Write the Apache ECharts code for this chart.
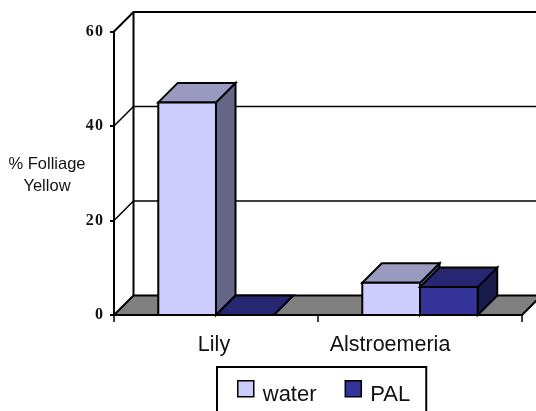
<!DOCTYPE html>
<html><head><meta charset="utf-8">
<style>html,body{margin:0;padding:0;background:#fff}#c{width:536px;height:411px}</style>
<script src="https://cdn.jsdelivr.net/npm/echarts@6/dist/echarts.min.js"></script></head>
<body><div id="c"></div>
<script>
const categories = ['Lily', 'Alstroemeria'];
const waterValues = [45, 6.8];
const palValues = [0, 5.9];
const yTicks = [0, 20, 40, 60];
const DEPTH = 19.5, BAR_FRACTION = 0.283;
const SANS = '"Liberation Sans", Arial, sans-serif';

function box(api, sideSign, colors) {
  const base = api.coord([api.value(0), 0]);
  const top = api.coord([api.value(0), api.value(1)]);
  const w = api.size([1, 0])[0] * BAR_FRACTION;
  const x0 = sideSign < 0 ? base[0] - w : base[0];
  const x1 = x0 + w;
  const yb = base[1], yt = top[1];
  const st = {stroke: '#000', lineWidth: 2, lineJoin: 'miter'};
  const poly = (pts, fill) => ({type: 'polygon', shape: {points: pts}, style: Object.assign({fill}, st)});
  return {type: 'group', silent: true, children: [
    poly([[x1, yb], [x1 + DEPTH, yb - DEPTH], [x1 + DEPTH, yt - DEPTH], [x1, yt]], colors.side),
    poly([[x0, yt], [x1, yt], [x1 + DEPTH, yt - DEPTH], [x0 + DEPTH, yt - DEPTH]], colors.top),
    poly([[x0, yb], [x1, yb], [x1, yt], [x0, yt]], colors.front)
  ]};
}
const waterColors = {front: '#ccccff', top: '#9a9ac0', side: '#666688'};
const palColors = {front: '#333399', top: '#262673', side: '#1a1a4d'};

function wall(params, api) {
  const cs = params.coordSys;
  const tick = api.value(1);
  const p = api.coord([0, tick]);
  const left = cs.x, right = cs.x + cs.width;
  const y = p[1];
  const children = [];
  const line = (pts, w) => ({type: 'polyline', shape: {points: pts}, style: {stroke: '#000', lineWidth: w, fill: null}});
  if (tick === 0) {
    children.push({type: 'polygon', shape: {points: [[left, y], [right, y], [right + DEPTH, y - DEPTH], [left + DEPTH, y - DEPTH]]},
      style: {fill: '#808080', stroke: '#000', lineWidth: 2}});
    children.push(line([[left + DEPTH, y - DEPTH], [left + DEPTH, cs.y - DEPTH]], 2));
  } else {
    const w = tick === yTicks[yTicks.length - 1] ? 2 : 1.5;
    children.push(line([[left, y], [left + DEPTH, y - DEPTH], [right + DEPTH, y - DEPTH]], w));
  }
  return {type: 'group', silent: true, children};
}

const labelFont = {color: '#111', fontFamily: SANS, fontSize: 21.5};
const legendFont = {color: '#111', fontFamily: SANS, fontSize: 22};
const chart = echarts.init(document.getElementById('c'), null, {renderer: 'canvas'});
chart.setOption({
  animation: false,
  backgroundColor: '#fff',
  title: {text: '% Folliage\nYellow', left: 47, top: 153, textAlign: 'center', padding: 0,
    textStyle: {color: '#111', fontFamily: SANS, fontSize: 16.5, fontWeight: 'normal', lineHeight: 22}},
  grid: {left: 114, top: 31.5, width: 408, height: 283.5, outerBoundsMode: 'none', containLabel: false},
  xAxis: {type: 'category', data: categories, z: 10,
    axisLine: {lineStyle: {color: '#000', width: 2}},
    axisTick: {show: true, length: 7, lineStyle: {color: '#000', width: 1.5}},
    axisLabel: Object.assign({}, labelFont, {margin: 19, interval: 0, hideOverlap: false,
      formatter: (v, i) => `{c${i}|${v}}`,
      rich: {
        c0: Object.assign({}, labelFont, {padding: [0, 4, 0, 0]}),
        c1: Object.assign({}, labelFont, {padding: [0, 60, 0, 0]})
      }})},
  yAxis: {type: 'value', min: 0, max: 60, interval: 20, z: 10,
    splitLine: {show: false},
    axisLine: {show: true, lineStyle: {color: '#000', width: 2}},
    axisTick: {show: true, length: 4, lineStyle: {color: '#000', width: 2}},
    axisLabel: {color: '#111', fontFamily: '"Liberation Serif", serif', fontWeight: 'bold', fontSize: 16, margin: 11,
      formatter: v => String(v).split('').join('\u200a')}},
  legend: {left: 217, top: 367, orient: 'horizontal', itemWidth: 16, itemHeight: 16, itemGap: 28,
    padding: [13, 16, 20, 20], borderColor: '#000', borderWidth: 2, backgroundColor: '#fff', icon: 'rect',
    formatter: '{t|{name}}',
    textStyle: Object.assign({}, legendFont, {rich: {t: Object.assign({}, legendFont, {padding: [12, 0, 0, 4]})}}),
    data: [
      {name: 'water', itemStyle: {color: waterColors.front, borderColor: '#000', borderWidth: 1.5}},
      {name: 'PAL', itemStyle: {color: palColors.front, borderColor: '#000', borderWidth: 1.5}}
    ]},
  series: [
    {type: 'custom', name: 'walls', z: 1, clip: false, silent: true, renderItem: wall,
      data: yTicks.map(t => [0, t])},
    {type: 'custom', name: 'water', z: 2, clip: false, itemStyle: {color: waterColors.front},
      renderItem: (p, api) => box(api, -1, waterColors),
      data: waterValues.map((v, i) => [i, v])},
    {type: 'custom', name: 'PAL', z: 3, clip: false, itemStyle: {color: palColors.front},
      renderItem: (p, api) => box(api, 1, palColors),
      data: palValues.map((v, i) => [i, v])}
  ]
});
</script></body></html>
